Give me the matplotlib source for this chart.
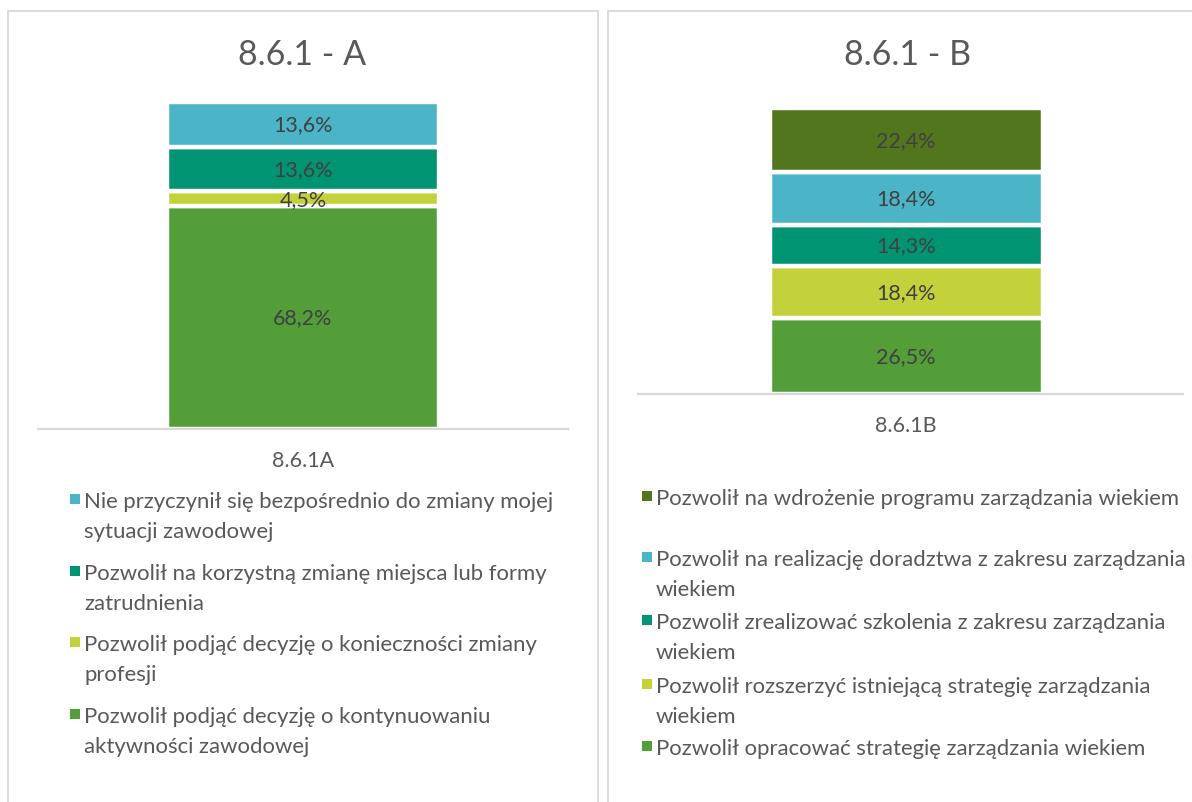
import matplotlib
matplotlib.use("Agg")
import matplotlib.pyplot as plt
from matplotlib.patches import Rectangle

plt.rcParams['font.family'] = ['Lato', 'DejaVu Sans']

# Panel A data (bottom to top of the stack)
labels_a = [
    "Pozwolił podjąć decyzję o kontynuowaniu\naktywności zawodowej",
    "Pozwolił podjąć decyzję o konieczności zmiany\nprofesji",
    "Pozwolił na korzystną zmianę miejsca lub formy\nzatrudnienia",
    "Nie przyczynił się bezpośrednio do zmiany mojej\nsytuacji zawodowej",
]
values_a = [68.2, 4.5, 13.6, 13.6]
colors_a = ["#539E39", "#C3D13B", "#019473", "#4BB4C6"]

# Panel B data (bottom to top of the stack)
labels_b = [
    "Pozwolił opracować strategię zarządzania wiekiem",
    "Pozwolił rozszerzyć istniejącą strategię zarządzania\nwiekiem",
    "Pozwolił zrealizować szkolenia z zakresu zarządzania\nwiekiem",
    "Pozwolił na realizację doradztwa z zakresu zarządzania\nwiekiem",
    "Pozwolił na wdrożenie programu zarządzania wiekiem",
]
values_b = [26.5, 18.4, 14.3, 18.4, 22.4]
colors_b = ["#539E39", "#C3D13B", "#019473", "#4BB4C6", "#51761D"]

titles = ["8.6.1 - A", "8.6.1 - B"]
categories = ["8.6.1A", "8.6.1B"]

W, H = 1192, 803
fig = plt.figure(figsize=(W / 100, H / 100), dpi=100)
TXT = "#595959"
LBL = "#404040"
GRID = "#D9D9D9"


def fx(px):
    return px / W


def fy(py):
    return 1 - py / H


# panel frames
for x0, x1 in [(8, 598), (608, 1200)]:
    fig.add_artist(Rectangle((fx(x0), fy(812)), fx(x1 - x0), (812 - 12) / H,
                             transform=fig.transFigure, fill=False,
                             edgecolor=GRID, linewidth=1.3))


def stacked(ax, values, colors, cat, width, center):
    bottom = 0
    for v, c in zip(values, colors):
        ax.bar(center, v, width=width, bottom=bottom, color=c,
               edgecolor="white", linewidth=3.2)
        ax.text(center, bottom + v / 2, f"{v:.1f}%".replace(".", ","),
                ha="center", va="center", fontsize=15.5, color=LBL)
        bottom += v
    ax.set_xlim(-0.5, 0.5)
    ax.set_ylim(0, 100)
    ax.set_yticks([])
    ax.set_xticks([center])
    ax.set_xticklabels([cat], fontsize=15.5, color=TXT)
    ax.tick_params(axis="x", length=0, pad=15)
    for s in ["top", "left", "right"]:
        ax.spines[s].set_visible(False)
    ax.spines["bottom"].set_color(GRID)
    ax.spines["bottom"].set_linewidth(1.6)
    ax.patch.set_alpha(0)


# panel A axes
ax_a = fig.add_axes([fx(38), fy(430), fx(568 - 38), (430 - 103) / H])
stacked(ax_a, values_a, colors_a, categories[0], 0.512, 0.0)

# panel B axes
ax_b = fig.add_axes([fx(638), fy(395), fx(1183 - 638), (395 - 109) / H])
stacked(ax_b, values_b, colors_b, categories[1], 0.501, -0.008)

fig.text(fx(302), fy(55), titles[0], ha="center", va="center",
         fontsize=24.5, color=TXT)
fig.text(fx(908), fy(55), titles[1], ha="center", va="center",
         fontsize=24.5, color=TXT)


def legend_lines(items, x_marker, x_text, first_line_y):
    for (lab, col), y in zip(items, first_line_y):
        fig.add_artist(Rectangle((fx(x_marker), fy(y + 5)), fx(10), 10 / H,
                                 transform=fig.transFigure, facecolor=col,
                                 edgecolor="none"))
        for k, line in enumerate(lab.split("\n")):
            fig.text(fx(x_text), fy(y + 30 * k), line, ha="left",
                     va="center_baseline", fontsize=15.9, color=TXT)


items_a = list(zip(labels_a, colors_a))[::-1]
legend_lines(items_a, 70, 84, [500, 572, 643, 715])

items_b = list(zip(labels_b, colors_b))[::-1]
legend_lines(items_b, 642, 656, [497, 558, 621, 685, 747])

fig.savefig("out.png", dpi=100)
